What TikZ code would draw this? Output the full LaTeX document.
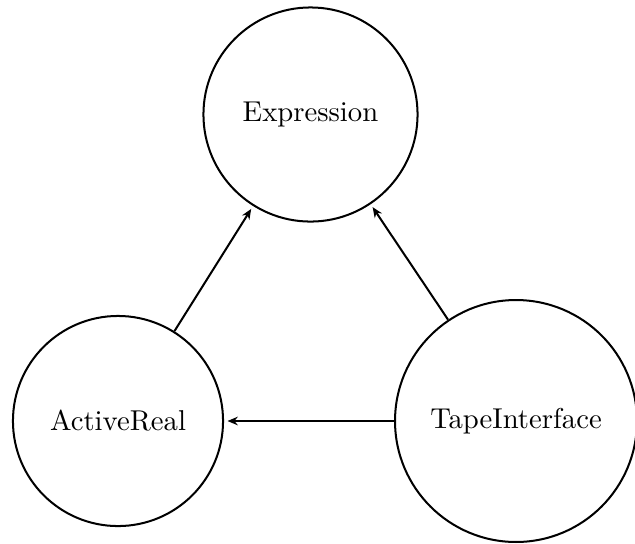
\documentclass[tikz,border=0pt]{standalone}
\usetikzlibrary{arrows.meta}
\begin{document}
\begin{tikzpicture}[x=0.3484pt, y=-0.3484pt,
  cls/.style={draw, circle, line width=0.7pt, inner sep=0pt, font=\normalsize},
  dep/.style={line width=0.7pt, -{Stealth[length=3.6pt, width=3pt]}, shorten >=1.2pt}]
  \useasboundingbox (0,0) rectangle (635,543);
  \node[cls, minimum size=74.6pt] (expr) at (310.5,114.5) {Expression};
  \node[cls, minimum size=73.2pt] (active) at (118,421) {ActiveReal};
  \node[cls, minimum size=84.3pt] (tape) at (516,421) {TapeInterface};
  \draw[dep] (active) -- (expr);
  \draw[dep] (tape) -- (expr);
  \draw[dep] (tape) -- (active);
\end{tikzpicture}
\end{document}
